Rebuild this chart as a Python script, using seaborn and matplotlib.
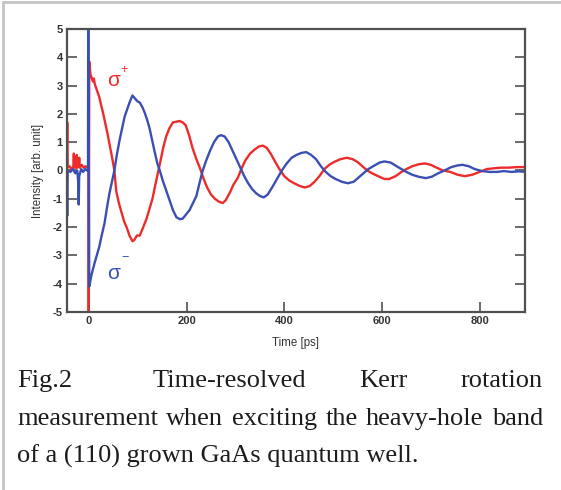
import matplotlib
matplotlib.use("Agg")
import matplotlib.pyplot as plt
from matplotlib.lines import Line2D
import pandas as pd
import seaborn as sns

# Kerr rotation traces: time delay (ps) and signal (arb. unit)
t_sigma_plus = [-46, -44.5, -43.5, -40, -36, -32, -31, -30, -27, -25, -24, -21, -20, -19, -15, -11, -7, -3, -1,
                -0.5, 0.5, 3, 5, 8, 10, 12, 16, 21, 25, 28, 33, 38, 43, 48, 52, 56, 62, 67, 72, 77, 83, 89,
                93, 98, 104, 110, 118, 124, 130, 136, 141, 146, 152, 158, 165, 172, 178, 185, 192, 198,
                205, 212, 220, 228, 235, 242, 250, 258, 266, 274, 280, 288, 296, 305, 312, 320, 330, 340,
                348, 356, 364, 372, 380, 390, 400, 410, 420, 432, 442, 452, 462, 472, 482, 492, 502, 515,
                528, 540, 550, 560, 570, 580, 592, 605, 615, 628, 640, 650, 662, 675, 688, 700, 712, 725,
                740, 755, 770, 785, 800, 815, 830, 845, 860, 875, 895]
kerr_sigma_plus = [0.1, 1.7, 0.1, 0.15, 0.05, 0.15, 0.6, 0.1, 0.1, 0.55, 0.1, 0.15, 0.45, 0.1, 0.2, 0.1, 0.15,
                   0.1, 0.1, -6.0, 3.85, 3.4, 3.3, 3.15, 3.25, 3.05, 2.85, 2.6, 2.3, 2.1, 1.7, 1.3, 0.85, 0.4,
                   0.0, -0.75, -1.2, -1.5, -1.8, -2.0, -2.3, -2.5, -2.45, -2.3, -2.3, -2.05, -1.7, -1.35, -1.0,
                   -0.5, -0.1, 0.3, 0.8, 1.2, 1.5, 1.7, 1.72, 1.75, 1.7, 1.6, 1.25, 0.8, 0.4, 0.05, -0.3, -0.6,
                   -0.85, -1.0, -1.1, -1.15, -1.05, -0.8, -0.5, -0.25, 0.05, 0.35, 0.6, 0.75, 0.85, 0.88, 0.8,
                   0.6, 0.35, 0.05, -0.2, -0.35, -0.45, -0.55, -0.6, -0.55, -0.4, -0.2, 0.05, 0.2, 0.3, 0.4,
                   0.45, 0.4, 0.3, 0.15, 0.0, -0.1, -0.2, -0.3, -0.3, -0.2, -0.05, 0.05, 0.15, 0.22, 0.25, 0.2,
                   0.1, 0.0, -0.05, -0.15, -0.2, -0.15, -0.05, 0.05, 0.08, 0.1, 0.1, 0.12, 0.12]

t_sigma_minus = [-46, -44.5, -43.5, -38, -33, -28, -24, -22, -21, -20, -16, -12, -8, -4, -2, -1.5, 0.5, 5, 11,
                 16, 21, 26, 32, 37, 42, 47, 52, 57, 63, 68, 73, 78, 83, 89, 94, 99, 104, 109, 114, 119, 124,
                 129, 134, 140, 145, 151, 158, 165, 172, 179, 186, 192, 199, 206, 213, 220, 227, 233, 240,
                 248, 256, 264, 270, 278, 286, 294, 302, 310, 318, 326, 334, 342, 350, 358, 366, 375, 385,
                 395, 405, 415, 425, 435, 445, 455, 465, 475, 485, 495, 505, 518, 530, 542, 552, 562, 572,
                 582, 595, 605, 618, 630, 640, 650, 662, 675, 690, 702, 715, 728, 742, 755, 765, 778, 790,
                 805, 820, 835, 850, 865, 880, 895]
kerr_sigma_minus = [0.0, -1.6, 0.0, -0.05, 0.05, -0.1, 0.0, -0.4, -1.2, -0.2, 0.05, -0.05, 0.05, 0.0, 0.0,
                    6.0, -4.1, -3.7, -3.3, -3.0, -2.7, -2.3, -1.85, -1.3, -0.8, -0.4, 0.0, 0.55, 1.1, 1.5,
                    1.9, 2.15, 2.4, 2.65, 2.55, 2.45, 2.4, 2.25, 2.05, 1.8, 1.5, 1.1, 0.7, 0.25, 0.0, -0.35,
                    -0.7, -1.05, -1.4, -1.65, -1.72, -1.7, -1.55, -1.4, -1.15, -0.9, -0.4, 0.0, 0.35, 0.7,
                    1.0, 1.2, 1.25, 1.2, 1.0, 0.7, 0.4, 0.1, -0.2, -0.45, -0.65, -0.8, -0.9, -0.95, -0.85,
                    -0.6, -0.3, 0.0, 0.25, 0.45, 0.55, 0.62, 0.65, 0.55, 0.4, 0.15, -0.05, -0.2, -0.3, -0.4,
                    -0.45, -0.4, -0.25, -0.1, 0.05, 0.15, 0.28, 0.32, 0.28, 0.15, 0.05, -0.05, -0.15, -0.22,
                    -0.27, -0.22, -0.1, 0.0, 0.12, 0.18, 0.2, 0.15, 0.05, -0.02, -0.05, -0.05, -0.02, -0.05,
                    -0.03, -0.05]

x_ticks = [0, 200, 400, 600, 800]
y_ticks = [-5, -4, -3, -2, -1, 0, 1, 2, 3, 4, 5]
x_label = "Time [ps]"
y_label = "Intensity [arb. unit]"
caption_justified = [["Fig.2", "Time-resolved", "Kerr", "rotation"],
                     ["measurement", "when", "exciting", "the", "heavy-hole", "band"]]
caption_last = "of a (110) grown GaAs quantum well."

RED = "#ee2b2b"
BLUE = "#3b4fb2"
SPINE = "#505050"

sns.set_theme(style="white")
plt.rcParams["font.family"] = ["Liberation Sans", "DejaVu Sans"]
plt.rcParams["axes.unicode_minus"] = False

W, H = 561, 490
fig = plt.figure(figsize=(W / 100, H / 100), dpi=100)
fig.patch.set_facecolor("white")

# axes box in pixel coordinates: left 67, right 525, top 29, bottom 312
ax = fig.add_axes([67 / W, 1 - 312 / H, (525 - 67) / W, (312 - 29) / H])
ax.set_facecolor("white")

plus_df = pd.DataFrame({"t": t_sigma_plus, "kerr": kerr_sigma_plus})
minus_df = pd.DataFrame({"t": t_sigma_minus, "kerr": kerr_sigma_minus})
sns.lineplot(data=plus_df, x="t", y="kerr", sort=False, estimator=None, color=RED, lw=1.7, ax=ax)
sns.lineplot(data=minus_df, x="t", y="kerr", sort=False, estimator=None, color=BLUE, lw=1.7, ax=ax)

ax.set_xlim(-45, 893)
ax.set_ylim(-5, 5)
ax.set_xticks(x_ticks)
ax.set_yticks(y_ticks)
ax.set_xticklabels([str(v) for v in x_ticks], fontweight="bold")
ax.set_yticklabels([str(v) for v in y_ticks], fontweight="bold")
ax.tick_params(direction="in", length=7, width=1.2, color=SPINE, labelcolor="#333333",
               labelsize=8, right=True, top=False, left=True, bottom=True, pad=3)
for s in ax.spines.values():
    s.set_color(SPINE)
    s.set_linewidth(1.6)

ax.set_xlabel(x_label, fontsize=8.3, color="#333333", labelpad=8)
ax.set_ylabel(y_label, fontsize=8.3, color="#333333", labelpad=6)

# polarisation labels
ax.text(38, 3.0, "σ", color=RED, fontsize=15, ha="left", va="baseline")
ax.text(65, 3.45, "+", color=RED, fontsize=9, ha="left", va="baseline")
ax.text(38, -3.85, "σ", color=BLUE, fontsize=15, ha="left", va="baseline")
ax.text(66, -3.2, "−", color=BLUE, fontsize=9, ha="left", va="baseline")

# thin grey frame on the left and top edges
fig.add_artist(Line2D([3 / W, 3 / W], [0, 1 - 2 / H], transform=fig.transFigure, color="#c4c4c8", lw=2))
fig.add_artist(Line2D([3 / W, 1], [1 - 2 / H, 1 - 2 / H], transform=fig.transFigure, color="#c4c4c8", lw=2))

# caption, justified between x=17 and x=543 (wider space after the figure number)
cap_kw = dict(family=["Liberation Serif", "DejaVu Serif"], fontsize=19, color="#1c1c1c", va="baseline")
x0, x1 = 17, 543
baselines = [387, 425, 463]
gap_weights = [[1.5, 1, 1], [1, 1, 1, 1, 1]]
renderer = fig.canvas.get_renderer()
for words, weights, yb in zip(caption_justified, gap_weights, baselines[:2]):
    texts = [fig.text(0, 1 - yb / H, w, ha="left", **cap_kw) for w in words]
    widths = [t.get_window_extent(renderer).width for t in texts]
    unit = ((x1 - x0) - sum(widths)) / sum(weights)
    x = x0
    for i, (t, w) in enumerate(zip(texts, widths)):
        t.set_x(x / W)
        if i < len(weights):
            x += w + unit * weights[i]
fig.text(x0 / W, 1 - baselines[2] / H, caption_last, ha="left", **cap_kw)

fig.savefig("out.png", dpi=100, facecolor="white")
